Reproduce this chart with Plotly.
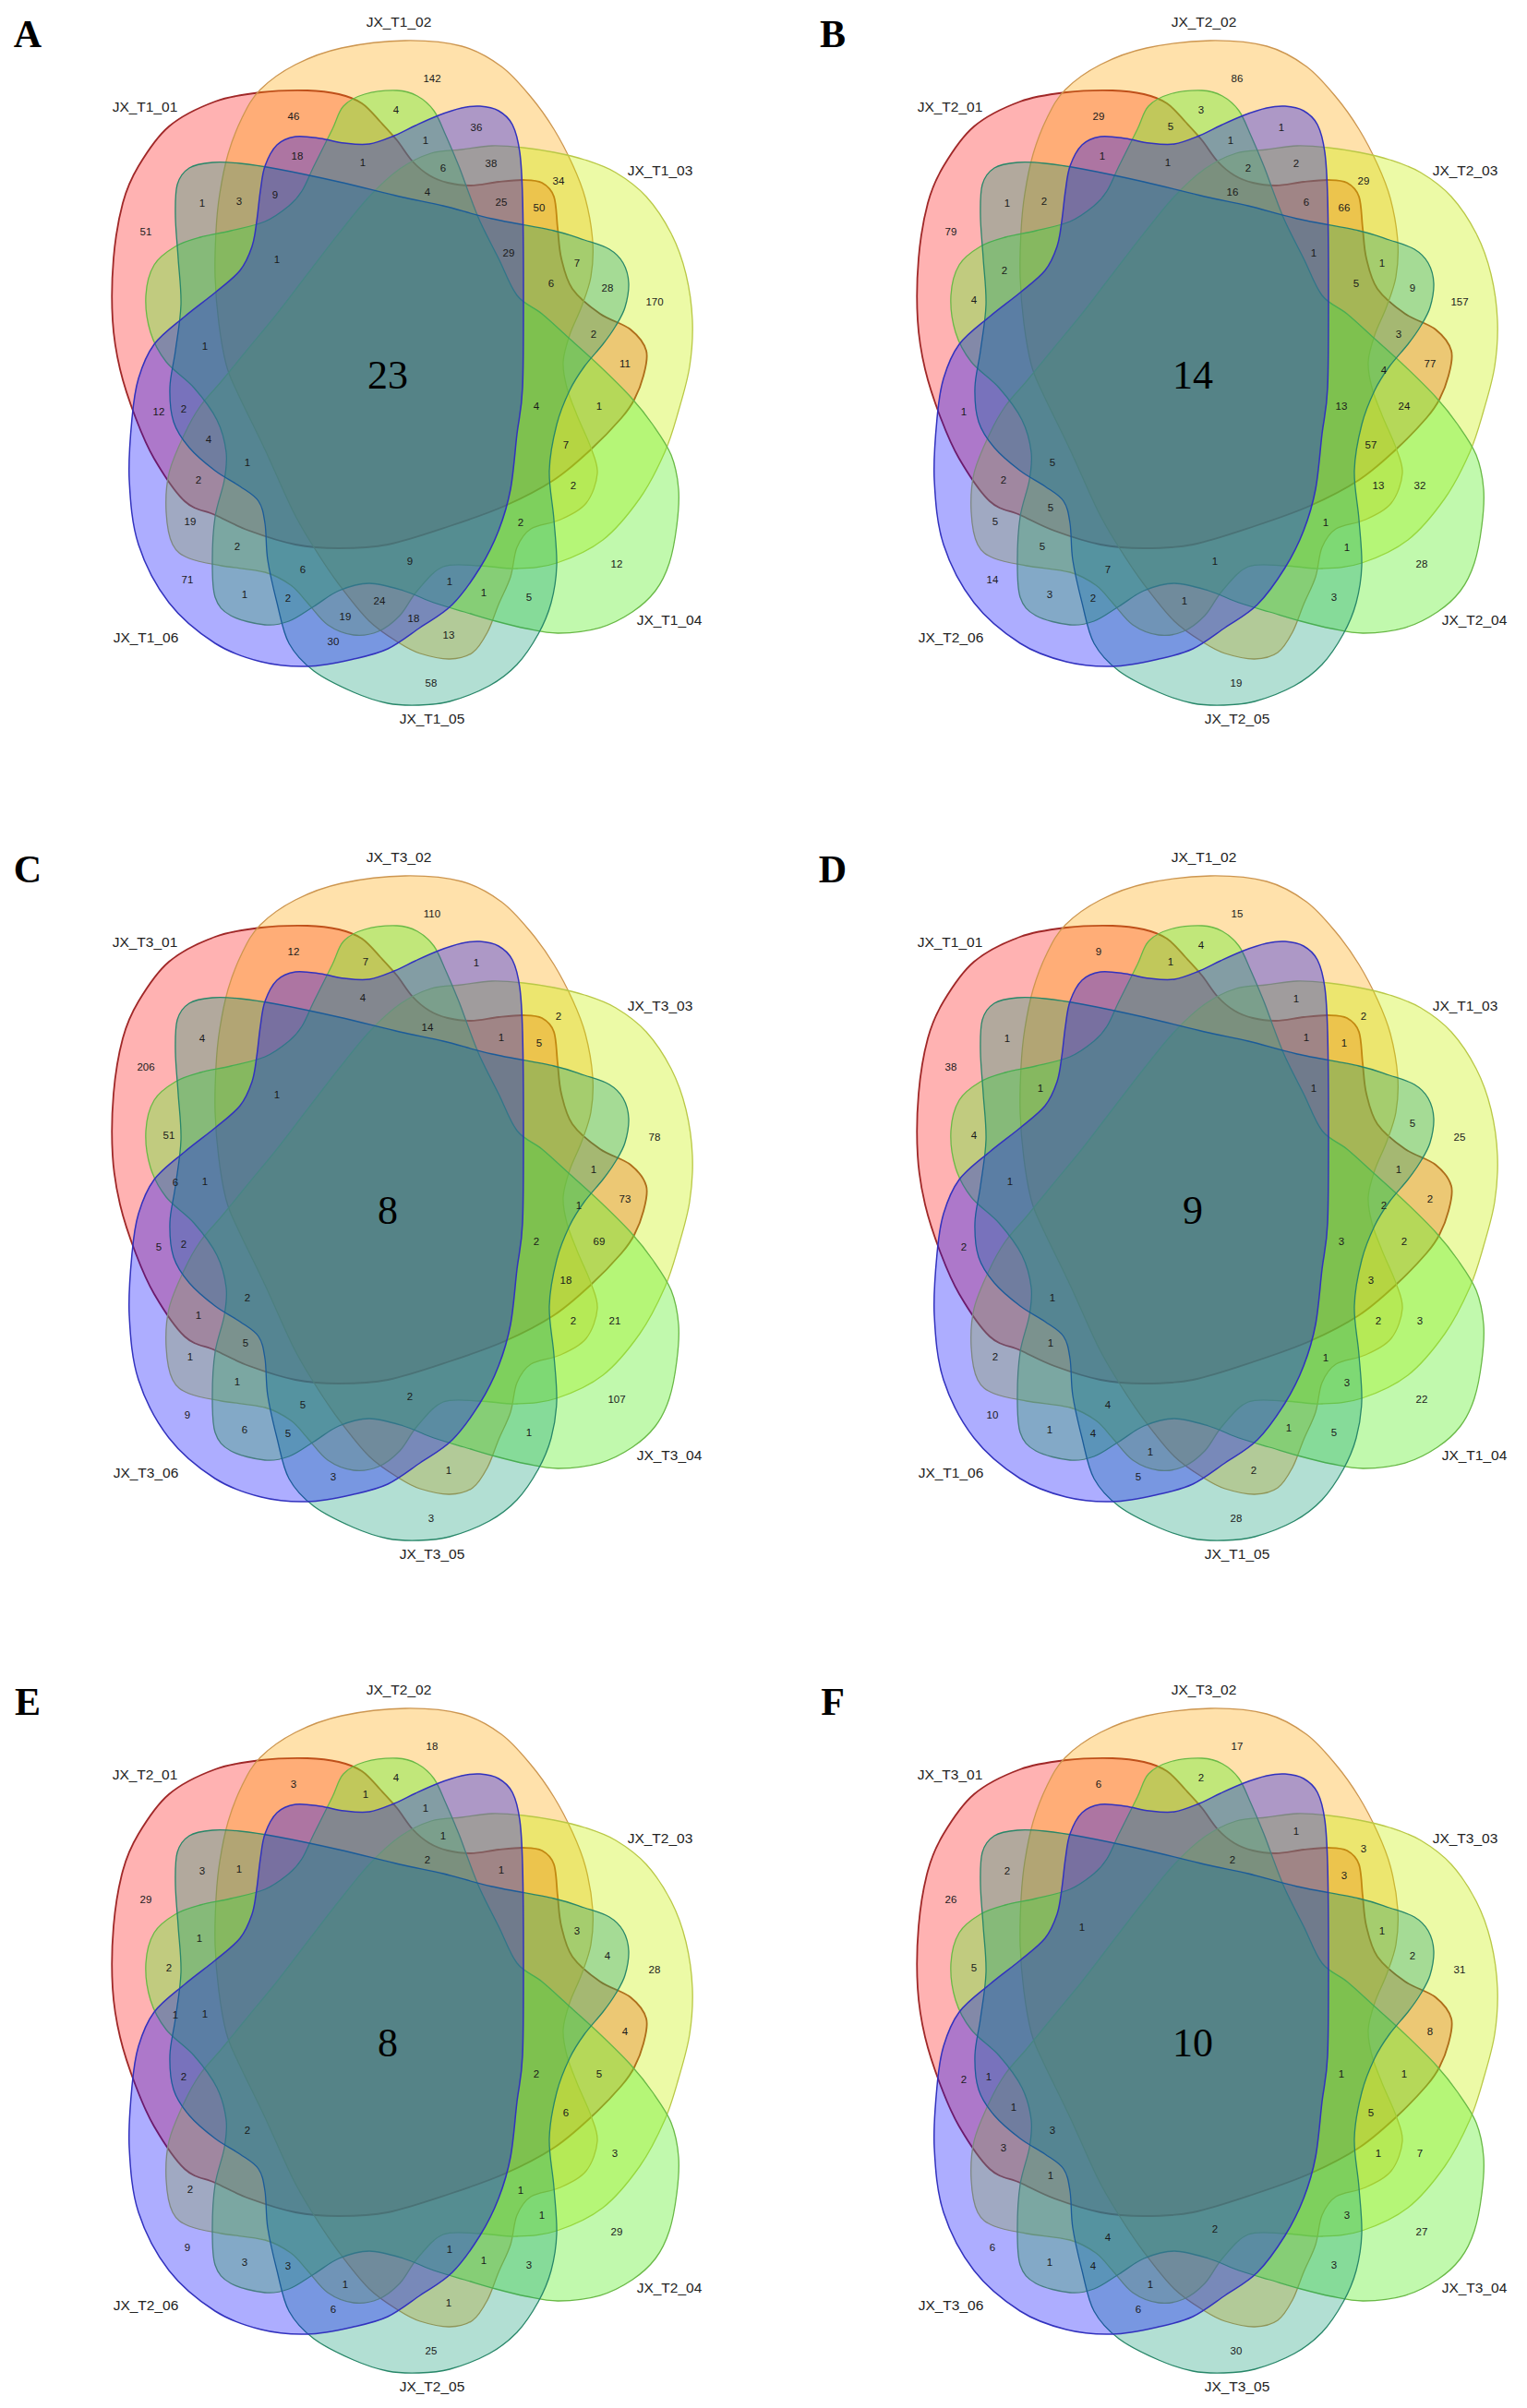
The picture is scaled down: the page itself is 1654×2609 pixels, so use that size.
import plotly.graph_objects as go

# ---------------- data ----------------
PANEL_LETTERS = ["A", "B", "C", "D", "E", "F"]
PANEL_GROUPS = ["T1", "T2", "T3", "T1", "T2", "T3"]
SET_SUFFIXES = ["01", "02", "03", "04", "05", "06"]
CENTER_COUNTS = [23, 14, 8, 9, 8, 10]
N = None
# region counts, one entry per region (same region order for every panel)
COUNTS_A = [142, 46, 4, N, 36, 1, 18, 1, 6, 38, 34, 4, 25, 50, 1, 3, 9, 51, 1, 29,
            7, N, N, 6, 28, 170, N, 2, N, 1, 11, N, 4, 1, 12, 2, 4, 7, 1, 2,
            2, N, N, 19, 2, 2, N, 12, 6, 9, 71, 1, 1, 2, 24, 1, 5, 19, 18, 13,
            30, 58]
COUNTS_B = [86, 29, 3, 5, 1, 1, 1, 1, 2, 2, 29, 16, 6, 66, 1, 2, N, 79, N, 1,
            1, 2, N, 5, 9, 157, 4, 3, N, N, 77, 4, 13, 24, 1, N, N, 57, 5, 2,
            13, 32, 5, 5, 1, 5, 1, 28, 7, 1, 14, N, 3, 2, 1, N, 3, N, N, N,
            N, 19]
COUNTS_C = [110, 12, N, 7, 1, N, N, 4, N, N, 2, 14, 1, 5, 4, N, N, 206, 1, N,
            N, N, N, N, N, 78, 51, 1, 6, 1, 73, 1, 2, 69, 5, 2, N, 18, 2, 1,
            2, 21, 5, 1, N, 1, N, 107, 5, 2, 9, N, 6, 5, N, N, 1, N, N, 1,
            3, 3]
COUNTS_D = [15, 9, 4, 1, N, N, N, N, N, 1, 2, N, 1, 1, 1, N, N, 38, N, 1,
            N, N, 1, N, 5, 25, 4, 1, N, 1, 2, 2, 3, 2, 2, N, N, 3, 1, N,
            2, 3, 1, 2, 1, N, 3, 22, 4, N, 10, N, 1, 4, N, 1, 5, 1, N, 2,
            5, 28]
COUNTS_E = [18, 3, 4, 1, N, 1, N, N, 1, N, N, 2, 1, N, 3, 1, N, 29, N, N,
            3, 1, N, N, 4, 28, 2, N, 1, 1, 4, N, 2, 5, N, 2, N, 6, 2, N,
            N, 3, N, 2, 1, N, 1, 29, N, N, 9, 1, 3, 3, N, 1, 3, 1, N, 1,
            6, 25]
COUNTS_F = [17, 6, 2, N, N, N, N, N, N, 1, 3, 2, N, 3, 2, N, N, 26, 1, N,
            1, N, N, N, 2, 31, 5, N, N, N, 8, N, 1, 1, 2, 1, 1, 5, 3, 3,
            1, 7, 1, N, N, N, 3, 27, 4, 2, 6, N, 1, 4, N, N, 3, 1, N, N,
            6, 30]
PANEL_COUNTS = [COUNTS_A, COUNTS_B, COUNTS_C, COUNTS_D, COUNTS_E, COUNTS_F]

# ---------------- layout (diagram geometry, panel-local pixels) ----------------
REGION_X = [468, 318, 429, 396, 516, 461, 322, 393, 480, 532, 605, 463, 543, 584, 219, 259, 298, 158, 300, 551,
            625, 216, 255, 597, 658, 709, 183, 643, 190, 222, 677, 627, 581, 649, 172, 199, 226, 613, 268, 215,
            621, 666, 266, 206, 564, 257, 587, 668, 328, 444, 203, 487, 265, 312, 411, 524, 573, 374, 448, 486,
            361, 467]
REGION_Y = [86, 127, 120, 138, 139, 153, 170, 177, 183, 178, 197, 209, 220, 226, 221, 219, 212, 252, 282, 275,
            286, 294, 275, 308, 313, 328, 326, 363, 377, 376, 395, 402, 441, 441, 447, 444, 477, 483, 502, 521,
            527, 527, 551, 566, 567, 593, 594, 612, 618, 609, 629, 631, 645, 649, 652, 643, 648, 669, 671, 689,
            696, 741]
CENTER_POS = (420, 410)
SET_LABEL_POS = [(157, 117), (432, 25), (715, 186), (725, 673), (468, 780), (158, 692)]
LETTER_POS = (30, 40)
PANEL_ORIGINS = [(0, 0), (872, 0), (0, 905), (872, 905), (0, 1807), (872, 1807)]

SHAPES = [
    # 01 red
    [(122, 347), (123, 280), (133, 220), (150, 180), (183, 137), (233, 110), (283, 100), (333, 98), (367, 102),
     (392, 112), (412, 132), (430, 152), (447, 175), (465, 190), (485, 198), (510, 201), (540, 197), (567, 195),
     (587, 198), (600, 213), (604, 247), (608, 280), (620, 313), (650, 340), (683, 357), (700, 380), (697, 407),
     (687, 433), (673, 453), (640, 487), (600, 520), (547, 548), (487, 570), (420, 590), (367, 594), (320, 590),
     (270, 575), (233, 558), (200, 543), (167, 497), (147, 453), (130, 400)],
    # 02 orange
    [(439, 44), (500, 50), (543, 72), (575, 105), (600, 140), (620, 178), (634, 215), (642, 262), (640, 300),
     (630, 332), (617, 363), (610, 392), (614, 420), (625, 450), (640, 485), (647, 513), (635, 545), (607, 563),
     (575, 573), (560, 593), (553, 625), (540, 655), (528, 685), (512, 707), (487, 714), (455, 708), (433, 697),
     (400, 673), (367, 633), (340, 593), (317, 553), (287, 487), (257, 425), (245, 395), (237, 350), (233, 300),
     (234, 250), (238, 210), (247, 167), (262, 128), (282, 97), (320, 70), (370, 52)],
    # 03 yellow
    [(500, 162), (533, 158), (567, 160), (600, 165), (633, 173), (667, 187), (700, 213), (727, 253), (743, 297),
     (750, 347), (747, 397), (735, 445), (720, 490), (693, 540), (653, 585), (603, 610), (560, 616), (520, 613),
     (480, 614), (452, 640), (433, 667), (410, 684), (383, 688), (355, 677), (333, 653), (315, 634), (287, 620),
     (240, 613), (205, 605), (187, 590), (180, 555), (183, 513), (200, 470), (217, 440), (240, 413), (267, 380),
     (300, 340), (333, 297), (367, 253), (400, 213), (433, 183), (467, 166)],
    # 04 green
    [(360, 140), (372, 115), (395, 102), (430, 98), (452, 104), (470, 120), (483, 147), (497, 180), (507, 207),
     (520, 240), (540, 280), (560, 320), (587, 340), (617, 367), (650, 397), (683, 430), (707, 460), (727, 493),
     (735, 530), (733, 570), (725, 610), (710, 640), (685, 663), (650, 680), (605, 686), (570, 681), (537, 673),
     (503, 663), (470, 653), (437, 640), (400, 632), (367, 640), (340, 657), (313, 673), (287, 677), (250, 667),
     (233, 647), (230, 607), (233, 560), (243, 520), (245, 490), (235, 455), (210, 420), (180, 392), (163, 360),
     (158, 320), (167, 287), (190, 267), (217, 257), (250, 250), (287, 240), (313, 223), (327, 207), (340, 180)],
    # 05 teal
    [(192, 200), (205, 182), (230, 176), (260, 177), (300, 183), (367, 197), (433, 213), (480, 223), (533, 237),
     (600, 250), (633, 260), (660, 270), (675, 285), (681, 307), (677, 333), (667, 353), (653, 373), (633, 397),
     (617, 423), (603, 460), (595, 510), (600, 563), (603, 613), (597, 653), (583, 687), (560, 720), (530, 743),
     (487, 760), (453, 764), (420, 762), (383, 750), (340, 727), (313, 697), (300, 653), (290, 607), (287, 567),
     (280, 543), (260, 527), (233, 510), (205, 485), (188, 457), (184, 420), (190, 380), (196, 330), (193, 280),
     (190, 235)],
    # 06 blue
    [(287, 180), (300, 157), (320, 148), (347, 150), (373, 155), (400, 156), (427, 147), (450, 136), (475, 125),
     (500, 117), (520, 115), (540, 120), (555, 135), (563, 165), (566, 213), (567, 313), (566, 420), (560, 470),
     (553, 530), (540, 575), (520, 615), (490, 655), (455, 680), (420, 703), (383, 714), (333, 722), (283, 717),
     (233, 697), (183, 653), (150, 590), (140, 520), (143, 453), (150, 410), (167, 373), (200, 343), (233, 317),
     (260, 293), (273, 267), (278, 240), (282, 207)],
]
FILL_COLORS = ["rgba(255,0,0,0.30)", "rgba(255,165,0,0.33)", "rgba(200,240,0,0.35)",
               "rgba(100,240,50,0.40)", "rgba(0,150,110,0.30)", "rgba(0,0,255,0.32)"]
LINE_COLORS = ["rgb(160,40,40)", "rgb(205,150,80)", "rgb(185,200,70)",
               "rgb(105,185,70)", "rgb(40,135,105)", "rgb(50,50,190)"]
LINE_WIDTHS = [1.8, 1.3, 1.3, 1.3, 1.3, 1.5]


def spline_path(pts, ox, oy):
    n = len(pts)
    P = [(x + ox, y + oy) for x, y in pts]
    d = "M %.1f,%.1f" % P[0]
    for i in range(n):
        p0 = P[(i - 1) % n]
        p1 = P[i]
        p2 = P[(i + 1) % n]
        p3 = P[(i + 2) % n]
        c1 = (p1[0] + (p2[0] - p0[0]) / 6.0, p1[1] + (p2[1] - p0[1]) / 6.0)
        c2 = (p2[0] - (p3[0] - p1[0]) / 6.0, p2[1] - (p3[1] - p1[1]) / 6.0)
        d += " C %.1f,%.1f %.1f,%.1f %.1f,%.1f" % (c1[0], c1[1], c2[0], c2[1], p2[0], p2[1])
    return d + " Z"


W, H = 1654, 2609
fig = go.Figure()
shapes = []
for p, (ox, oy) in enumerate(PANEL_ORIGINS):
    for k, pts in enumerate(SHAPES):
        shapes.append(dict(type="path", xref="x", yref="y", path=spline_path(pts, ox, oy),
                           fillcolor=FILL_COLORS[k],
                           line=dict(color=LINE_COLORS[k], width=LINE_WIDTHS[k]),
                           layer="below"))

    counts = PANEL_COUNTS[p]
    xs, ys, ts = [], [], []
    for i, v in enumerate(counts):
        if v is None:
            continue
        xs.append(REGION_X[i] + ox)
        ys.append(REGION_Y[i] + oy)
        ts.append(str(v))
    fig.add_trace(go.Scatter(x=xs, y=ys, text=ts, mode="text", hoverinfo="skip",
                             textfont=dict(family="Liberation Sans, Arial", size=11.5, color="#1a1a1a"),
                             showlegend=False))
    # set names
    fig.add_trace(go.Scatter(x=[sx + ox for sx, sy in SET_LABEL_POS], y=[sy + oy for sx, sy in SET_LABEL_POS],
                             text=["JX_%s_%s" % (PANEL_GROUPS[p], s) for s in SET_SUFFIXES],
                             mode="text", hoverinfo="skip", showlegend=False,
                             textfont=dict(family="Liberation Sans, Arial", size=15.5, color="#222222")))
    # center count
    fig.add_trace(go.Scatter(x=[CENTER_POS[0] + ox], y=[CENTER_POS[1] + oy], text=[str(CENTER_COUNTS[p])],
                             mode="text", hoverinfo="skip", showlegend=False,
                             textfont=dict(family="Liberation Serif, Times New Roman", size=44, color="#000000")))
    # panel letter
    fig.add_trace(go.Scatter(x=[LETTER_POS[0] + ox], y=[LETTER_POS[1] + oy], text=[PANEL_LETTERS[p]],
                             mode="text", hoverinfo="skip", showlegend=False,
                             textfont=dict(family="Liberation Serif, Times New Roman", size=42,
                                           color="#000000", weight="bold")))

fig.update_layout(width=W, height=H, margin=dict(l=0, r=0, t=0, b=0),
                  paper_bgcolor="white", plot_bgcolor="white", shapes=shapes, showlegend=False,
                  xaxis=dict(range=[0, W], visible=False, fixedrange=True),
                  yaxis=dict(range=[H, 0], visible=False, fixedrange=True))
fig.write_html("out.html", config={"displayModeBar": False},
               post_script="document.body.style.margin='0';")
